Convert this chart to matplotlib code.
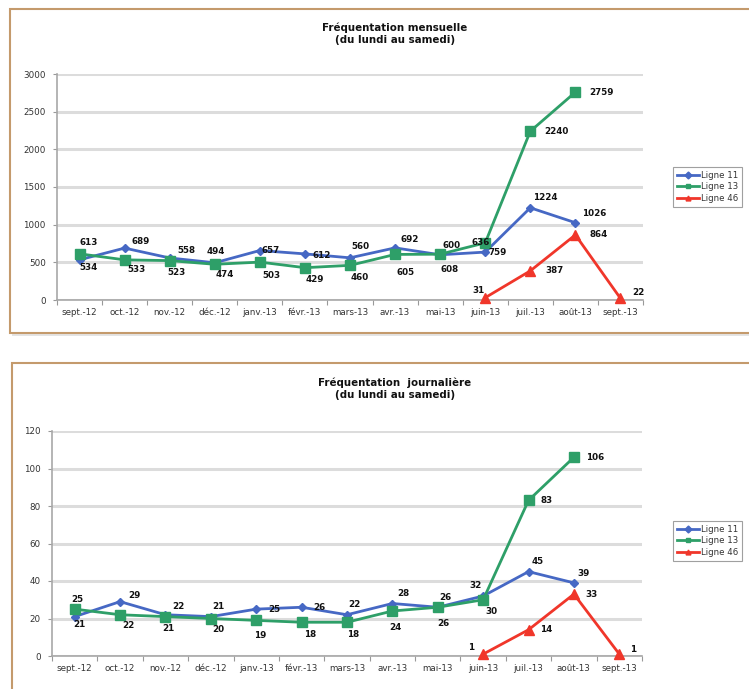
import matplotlib
matplotlib.use("Agg")
import matplotlib.pyplot as plt
from matplotlib.patches import Rectangle
from matplotlib.lines import Line2D
import numpy as np

# Données
mois = ['sept.-12', 'oct.-12', 'nov.-12', 'déc.-12', 'janv.-13', 'févr.-13', 'mars-13',
        'avr.-13', 'mai-13', 'juin-13', 'juil.-13', 'août-13', 'sept.-13']

mens_l11 = [534, 689, 558, 494, 657, 612, 560, 692, 600, 636, 1224, 1026, None]
mens_l13 = [613, 533, 523, 474, 503, 429, 460, 605, 608, 759, 2240, 2759, None]
mens_l46 = [None, None, None, None, None, None, None, None, None, 31, 387, 864, 22]

jour_l11 = [21, 29, 22, 21, 25, 26, 22, 28, 26, 32, 45, 39, None]
jour_l13 = [25, 22, 21, 20, 19, 18, 18, 24, 26, 30, 83, 106, None]
jour_l46 = [None, None, None, None, None, None, None, None, None, 1, 14, 33, 1]

# Décalage des étiquettes (pixels, x vers la droite, y vers le haut)
off_m11 = [(9, -8), (16, 7), (17, 7), (1, 11), (11, 0), (17, -2), (10, 11),
           (15, 8), (11, 9), (-5, 10), (15, 10), (19, 9), None]
off_m13 = [(9, 11), (12, -10), (7, -12), (10, -10), (12, -13), (10, -12), (10, -12),
           (10, -18), (9, -15), (12, -10), (26, 0), (26, 0), None]
off_m46 = [None] * 9 + [(-7, 7), (24, 0), (23, 0), (18, 6)]

off_j11 = [(5, -8), (14, 6), (13, 8), (8, 10), (18, 0), (18, 0), (7, 10),
           (11, 10), (8, 10), (-8, 11), (9, 10), (10, 9), None]
off_j13 = [(3, 10), (8, -11), (3, -12), (7, -11), (4, -15), (8, -12), (6, -12),
           (3, -17), (6, -16), (8, -12), (18, 0), (21, 0), None]
off_j46 = [None] * 9 + [(-12, 7), (18, 0), (18, 0), (14, 5)]

BLEU = '#4668c4'
VERT = '#2e9f68'
ROUGE = '#f0362a'
BORD = '#c49a6c'

W, H = 749, 689
fig = plt.figure(figsize=(W / 100, H / 100), dpi=100)


def fx(px):
    return px / W


def fy(py):
    return 1 - py / H


def cadre(x0, y0, x1, y1):
    # ombre puis cadre, derrière les axes
    fig.patches.append(Rectangle((fx(x0 + 2), fy(y1 + 3)), fx(x1 - x0), (y1 - y0) / H,
                                 transform=fig.transFigure, facecolor='#e4e4e4',
                                 edgecolor='none', zorder=-2))
    fig.patches.append(Rectangle((fx(x0), fy(y1)), fx(x1 - x0), (y1 - y0) / H,
                                 transform=fig.transFigure, facecolor='white',
                                 edgecolor=BORD, linewidth=1.5, zorder=-1))


def graphique(rect, l11, l13, l46, o11, o13, o46, ymax, ystep, titre, ytitre, yleg):
    ax = fig.add_axes(rect)
    ax.patch.set_alpha(0)
    x = np.arange(len(mois))
    series = [(l11, BLEU, 'D', 4.5, 'Ligne 11', o11),
              (l13, VERT, 's', 6.5, 'Ligne 13', o13),
              (l46, ROUGE, '^', 6.5, 'Ligne 46', o46)]
    handles = []
    for vals, c, m, ms, nom, offs in series:
        xs = [i for i, v in enumerate(vals) if v is not None]
        ys = [v for v in vals if v is not None]
        ax.plot(xs, ys, color=c, linewidth=2, marker=m, markersize=ms,
                markeredgecolor=c, zorder=3, clip_on=False)
        for i, v in zip(xs, ys):
            ax.annotate(str(v), (i, v), xytext=offs[i], textcoords='offset pixels',
                        ha='center', va='center', fontsize=6.3, fontweight='bold',
                        color='#111111', zorder=4)
        handles.append(Line2D([], [], color=c, linewidth=2, marker=m,
                              markersize=3.5, markeredgecolor=c))
    ax.set_xlim(-0.5, len(mois) - 0.5)
    ax.set_ylim(0, ymax)
    ax.set_yticks(np.arange(0, ymax + 1, ystep))
    ax.set_xticks(x)
    ax.set_xticklabels(mois)
    ax.set_xticks(np.arange(-0.5, len(mois), 1), minor=True)
    ax.tick_params(axis='x', which='major', length=0, labelsize=6.3,
                   colors='#333333', pad=6)
    ax.tick_params(axis='x', which='minor', length=3.5, color='#999999', width=0.8)
    ax.tick_params(axis='y', length=3, color='#999999', width=0.8,
                   labelsize=6.3, labelcolor='#333333', pad=5)
    ax.grid(axis='y', color='#dcdcdc', linewidth=2.2)
    ax.set_axisbelow(True)
    for s in ['top', 'right']:
        ax.spines[s].set_visible(False)
    for s in ['left', 'bottom']:
        ax.spines[s].set_color('#a8a8a8')
        ax.spines[s].set_linewidth(1.2)
    fig.text(fx(395), fy(ytitre), titre, ha='center', va='center', fontsize=7.4,
             fontweight='bold', color='#111111', linespacing=1.3)
    leg = fig.legend(handles, ['Ligne 11', 'Ligne 13', 'Ligne 46'],
                     loc='upper left', bbox_to_anchor=(fx(673), fy(yleg)),
                     fontsize=6.2, frameon=True, fancybox=False,
                     handlelength=2.6, handletextpad=0.2, borderpad=0.45,
                     labelspacing=0.3, borderaxespad=0)
    leg.get_frame().set_edgecolor('#888888')
    leg.get_frame().set_linewidth(0.8)
    for t in leg.get_texts():
        t.set_color('#333333')
    return ax


cadre(10, 9, 760, 333)
cadre(12, 363, 760, 700)

graphique([fx(57), fy(300), fx(643 - 57), (300 - 74) / H],
          mens_l11, mens_l13, mens_l46, off_m11, off_m13, off_m46,
          3000, 500, 'Fréquentation mensuelle\n(du lundi au samedi)', 34, 167)

graphique([fx(52), fy(656), fx(642 - 52), (656 - 431) / H],
          jour_l11, jour_l13, jour_l46, off_j11, off_j13, off_j46,
          120, 20, 'Fréquentation  journalière\n(du lundi au samedi)', 389, 521)

fig.savefig('out.png', dpi=100)
